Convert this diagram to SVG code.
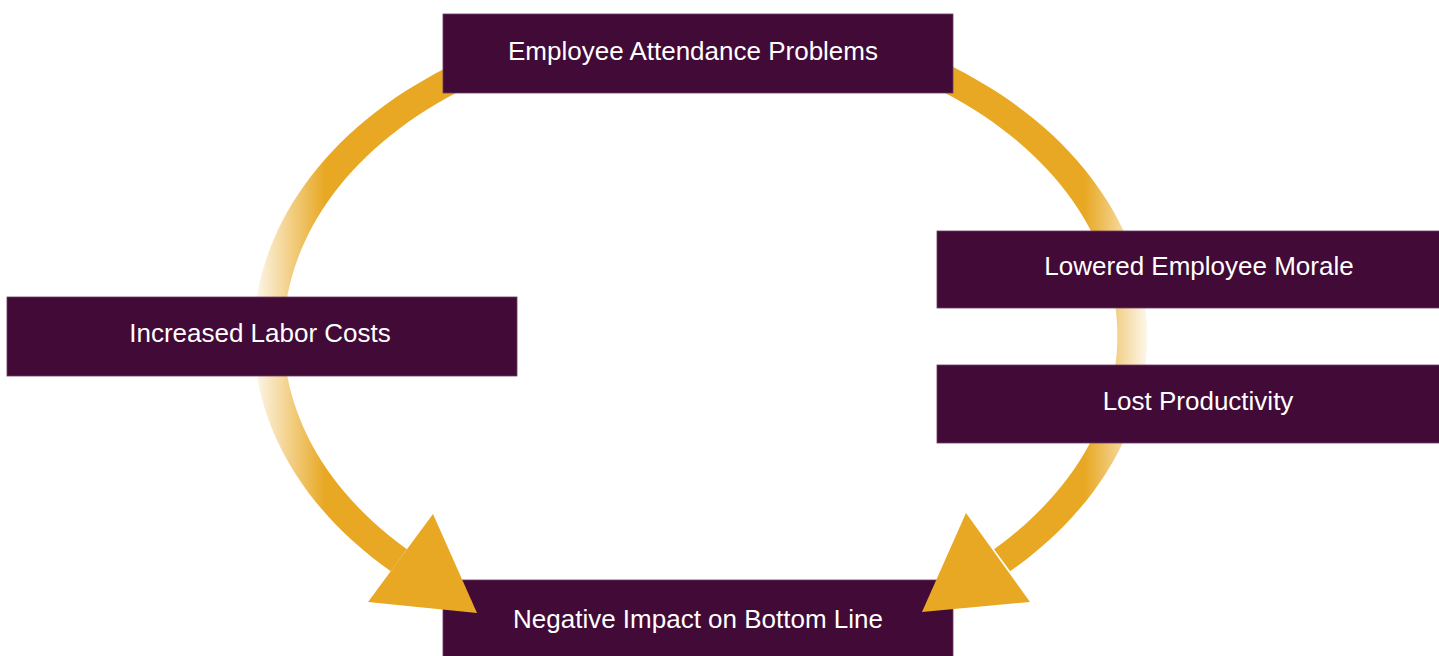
<svg xmlns="http://www.w3.org/2000/svg" width="1439" height="656" viewBox="0 0 1439 656">
  <defs>
    <linearGradient id="gradL" gradientUnits="userSpaceOnUse" x1="254" y1="0" x2="325" y2="0">
      <stop offset="0" stop-color="#E8A823" stop-opacity="0.08"/>
      <stop offset="1" stop-color="#E8A823" stop-opacity="1"/>
    </linearGradient>
    <linearGradient id="gradR" gradientUnits="userSpaceOnUse" x1="1085" y1="0" x2="1148" y2="0">
      <stop offset="0" stop-color="#E8A823" stop-opacity="1"/>
      <stop offset="1" stop-color="#E8A823" stop-opacity="0.08"/>
    </linearGradient>
    <style>
      .box { fill: #420A37; stroke: #6e3a64; stroke-width: 0.8; }
      .lbl { fill: #FFFFFF; font-family: "Liberation Sans", Arial, sans-serif; font-size: 26px; text-anchor: middle; }
      .head { fill: #E8A823; }
    </style>
  </defs>
  <rect width="1439" height="656" fill="#FFFFFF"/>

  <g id="node-bottom">
    <rect class="box" x="443" y="580" width="510" height="80"/>
    <text class="lbl" x="698" y="628">Negative Impact on Bottom Line</text>
  </g>

  <g id="connectors">
    <path d="M 520 37.8 A 446.5 326 0 0 0 390.8 571.2 L 407 549.2 A 416.5 300 0 0 1 520 65.6 Z" fill="url(#gradL)"/>
    <path d="M 881 37.8 A 446.5 326 0 0 1 1010.2 571.2 L 994 549.2 A 416.5 300 0 0 0 881 65.6 Z" fill="url(#gradR)"/>
    <polygon class="head" points="433,514 368,602 477,613"/>
    <polygon class="head" points="966,513 1030,602 922,612"/>
  </g>

  <g id="node-top">
    <rect class="box" x="443" y="14" width="510" height="79"/>
    <text class="lbl" x="693" y="60">Employee Attendance Problems</text>
  </g>

  <g id="node-left">
    <rect class="box" x="7" y="297" width="510" height="79"/>
    <text class="lbl" x="260" y="342">Increased Labor Costs</text>
  </g>

  <g id="node-morale">
    <rect class="box" x="937" y="231" width="510" height="77"/>
    <text class="lbl" x="1199" y="275">Lowered Employee Morale</text>
  </g>

  <g id="node-productivity">
    <rect class="box" x="937" y="365" width="510" height="78"/>
    <text class="lbl" x="1198" y="410">Lost Productivity</text>
  </g>
</svg>
